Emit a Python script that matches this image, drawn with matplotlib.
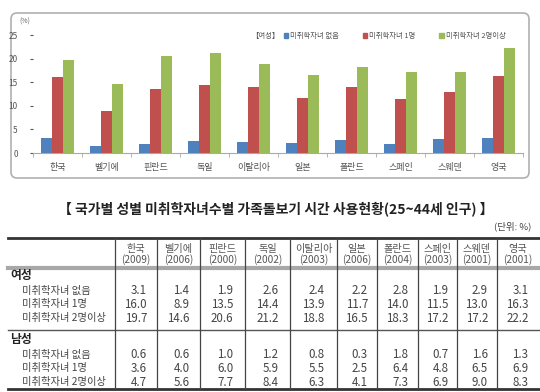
import matplotlib
matplotlib.use('Agg')
import matplotlib.pyplot as plt
from matplotlib.patches import FancyBboxPatch, Patch
import numpy as np

plt.rcParams['font.family'] = ['Noto Sans CJK KR', 'DejaVu Sans']

# data
countries = ['한국', '벨기에', '핀란드', '독일', '이탈리아', '일본', '폴란드', '스페인', '스웨덴', '영국']
years = ['2009', '2006', '2000', '2002', '2003', '2006', '2004', '2003', '2001', '2001']
row_labels = ['미취학자녀 없음', '미취학자녀 1명', '미취학자녀 2명이상']

women_none = [3.1, 1.4, 1.9, 2.6, 2.4, 2.2, 2.8, 1.9, 2.9, 3.1]
women_one = [16.0, 8.9, 13.5, 14.4, 13.9, 11.7, 14.0, 11.5, 13.0, 16.3]
women_two = [19.7, 14.6, 20.6, 21.2, 18.8, 16.5, 18.3, 17.2, 17.2, 22.2]

men_none = [0.6, 0.6, 1.0, 1.2, 0.8, 0.3, 1.8, 0.7, 1.6, 1.3]
men_one = [3.6, 4.0, 6.0, 5.9, 5.5, 2.5, 6.4, 4.8, 6.5, 6.9]
men_two = [4.7, 5.6, 7.7, 8.4, 6.3, 4.1, 7.3, 6.9, 9.0, 8.3]

colors = ['#4f81bd', '#c0504d', '#9bbb59']
W, H = 540, 392

fig = plt.figure(figsize=(W / 100, H / 100), dpi=100)

# overlay in pixel coords for panel border and table
bg = fig.add_axes([0, 0, 1, 1])
bg.set_xlim(0, W)
bg.set_ylim(H, 0)
bg.axis('off')
bg.add_patch(FancyBboxPatch((11, 13), 518, 165, boxstyle='round,pad=0,rounding_size=6',
                            fc='white', ec='#b0b0b0', lw=1.2))

# bar chart
ax = fig.add_axes([33 / W, 1 - 153 / H, 490 / W, 118 / H])
x = np.arange(len(countries))
bw = 0.225
for i, (vals, c) in enumerate(zip([women_none, women_one, women_two], colors)):
    ax.bar(x + (i - 1) * bw, vals, bw, color=c, label=row_labels[i], zorder=3)
ax.set_xlim(-0.5, len(countries) - 0.5)
ax.set_ylim(0, 25)
ax.set_yticks(range(0, 26, 5))
ax.set_xticks(x)
ax.set_xticklabels(countries, fontsize=6.5, color='#555555')
ax.set_xticks(np.arange(-0.5, len(countries), 1), minor=True)
ax.tick_params(axis='x', which='major', length=0, pad=7)
ax.tick_params(axis='x', which='minor', length=3, color='#aaaaaa')
ax.tick_params(axis='y', labelsize=6, colors='#555555', length=2, pad=9)
for s in ['top', 'right', 'left']:
    ax.spines[s].set_visible(False)
ax.spines['bottom'].set_color('#aaaaaa')
ax.patch.set_alpha(0)
bg.text(19, 22, '(%)', fontsize=5, color='#666666', va='center')

handles = [Patch(color=c) for c in colors]
bg.text(251, 36, '【여성】', fontsize=5.3, color='#555555', va='center')
ax.legend(handles, row_labels, ncol=3, fontsize=5.3, frameon=False, handlelength=0.6,
          handleheight=0.6, handletextpad=0.3, columnspacing=3.2, labelcolor='#555555',
          loc='center left', bbox_to_anchor=((280 - 33) / 490, (153 - 36) / 118), borderpad=0)

# table
bg.text(276, 209, '【 국가별 성별 미취학자녀수별 가족돌보기 시간 사용현황(25~44세 인구) 】',
        fontsize=10, fontweight='bold', ha='center', va='center', color='#222222')
bg.text(531, 226, '(단위: %)', fontsize=6.8, ha='right', va='center', color='#444444')

bounds = [115, 157, 200, 245, 290, 337, 377, 418, 457, 497, 538]
top, bottom = 238, 389
bg.plot([8, 540], [top, top], color='#333333', lw=2)
bg.plot([8, 540], [bottom, bottom], color='#333333', lw=2)
bg.plot([8, 540], [267.5, 267.5], color='#a8a8a8', lw=3)
bg.plot([8, 540], [330, 330], color='#555555', lw=1)
for b in bounds[:-1]:
    bg.plot([b, b], [top, bottom], color='#444444', lw=0.9)

centers = [(bounds[i] + bounds[i + 1]) / 2 for i in range(len(countries))]
for cx, name, yr in zip(centers, countries, years):
    bg.text(cx, 249, name, fontsize=7.3, ha='center', va='center', color='#555555')
    bg.text(cx, 260, '(' + yr + ')', fontsize=7.3, ha='center', va='center', color='#555555')

groups = [('여성', 276, [women_none, women_one, women_two]),
          ('남성', 340, [men_none, men_one, men_two])]
for title, y0, series in groups:
    bg.text(10, y0, title, fontsize=8.5, fontweight='bold', va='center', color='#222222')
    for j, (lab, vals) in enumerate(zip(row_labels, series)):
        yy = y0 + 15 + j * 13.5
        bg.text(22, yy, lab, fontsize=7.4, va='center', color='#444444')
        for cx, v in zip(centers, vals):
            bg.text(cx + 11, yy, f'{v:.1f}', fontsize=8.3, ha='right', va='center', color='#444444')

fig.savefig('out.png', dpi=100)
